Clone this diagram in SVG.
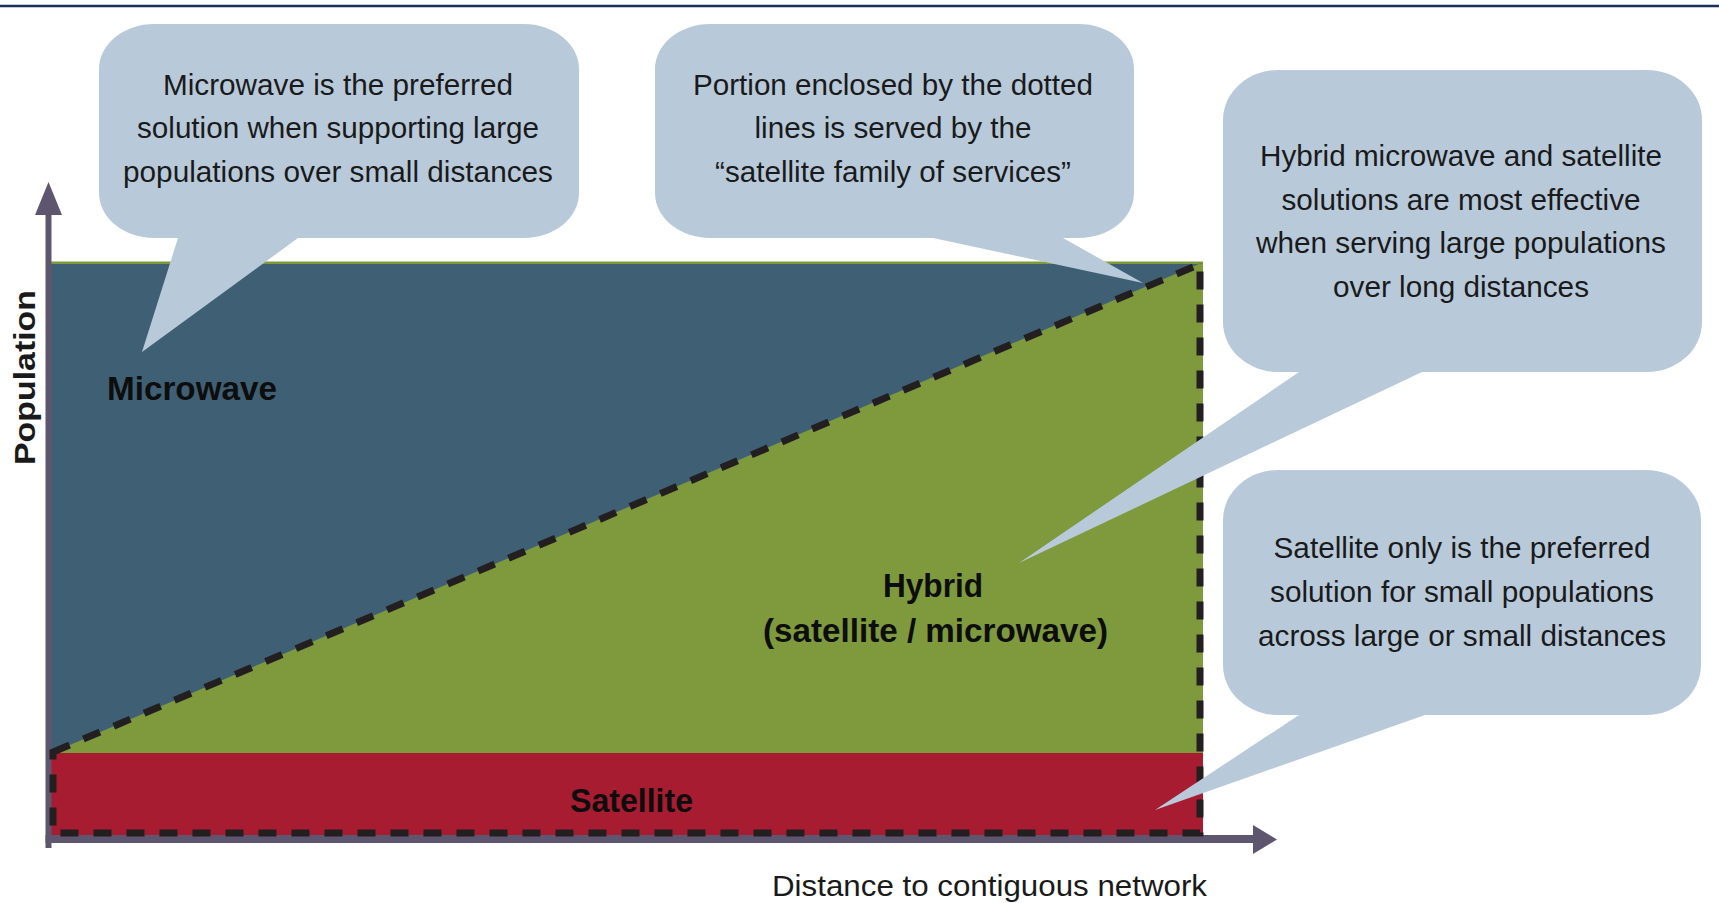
<svg xmlns="http://www.w3.org/2000/svg" width="1719" height="903" viewBox="0 0 1719 903">
  <style>
    .callout { fill: #b8cada; }
    .ctext { font-family: "Liberation Sans", Arial, sans-serif; font-size: 30px; fill: #1a1a1a; text-anchor: middle; }
    .label { font-family: "Liberation Sans", Arial, sans-serif; font-size: 33px; font-weight: bold; fill: #0d0d0d; }
    .axislabel { font-family: "Liberation Sans", Arial, sans-serif; font-size: 30px; fill: #1a1a1a; }
    .axis { stroke: #5e566e; fill: none; }
    .axishead { fill: #5e566e; }
    .dash { stroke: #231f20; stroke-width: 7; fill: none; stroke-dasharray: 18 15; }
  </style>

  <rect x="0" y="0" width="1719" height="903" fill="#ffffff"/>
  <line x1="0" y1="6" x2="1719" y2="6" stroke="#1b2f5e" stroke-width="2.5"/>

  <g id="regions">
    <rect id="hybrid-region" x="51" y="261.5" width="1152" height="492" fill="#7e9a3d"/>
    <polygon id="microwave-region" points="51,264 1203,264 1200,263.5 51,753" fill="#3f6074"/>
    <rect id="satellite-region" x="51" y="753" width="1152" height="83" fill="#a71c30"/>
  </g>

  <g id="axes">
    <line class="axis" x1="48.5" y1="848" x2="48.5" y2="212" stroke-width="6"/>
    <polygon class="axishead" points="35,215 48.5,182 62,215"/>
    <line class="axis" x1="45.5" y1="839" x2="1256" y2="839" stroke-width="8"/>
    <polygon class="axishead" points="1253,825 1277,839.5 1253,854"/>
    <text class="axislabel" x="772" y="896" textLength="435" lengthAdjust="spacingAndGlyphs">Distance to contiguous network</text>
    <text class="axislabel" font-weight="bold" font-size="28" transform="translate(35,465) rotate(-90)" textLength="175" lengthAdjust="spacingAndGlyphs">Population</text>
  </g>

  <g id="connectors">
    <path id="satellite-family-boundary" class="dash" d="M 53,752 L 1200,264 L 1200,833 L 53,833 Z"/>
  </g>

  <g id="labels">
    <text id="label-microwave" class="label" x="107" y="400" textLength="170" lengthAdjust="spacingAndGlyphs">Microwave</text>
    <text id="label-hybrid" class="label" x="883" y="597" textLength="100" lengthAdjust="spacingAndGlyphs">Hybrid</text>
    <text id="label-hybrid2" class="label" x="763" y="642" textLength="345" lengthAdjust="spacingAndGlyphs">(satellite / microwave)</text>
    <text id="label-satellite" class="label" x="570" y="812" textLength="123" lengthAdjust="spacingAndGlyphs">Satellite</text>
  </g>

  <g id="callout-microwave">
    <path class="callout" d="M 154,24 H 524 A 55 45 0 0 1 579,69 V 193 A 55 45 0 0 1 524,238 H 298 L 142,352 L 178,238 H 154 A 55 45 0 0 1 99,193 V 69 A 55 45 0 0 1 154,24 Z"/>
    <text class="ctext" x="338" y="95" textLength="350" lengthAdjust="spacingAndGlyphs">Microwave is the preferred</text>
    <text class="ctext" x="338" y="138" textLength="402" lengthAdjust="spacingAndGlyphs">solution when supporting large</text>
    <text class="ctext" x="338" y="182" textLength="430" lengthAdjust="spacingAndGlyphs">populations over small distances</text>
  </g>

  <g id="callout-portion">
    <path class="callout" d="M 710,24 H 1079 A 55 45 0 0 1 1134,69 V 193 A 55 45 0 0 1 1079,238 H 1063 L 1143,283 L 933,238 H 710 A 55 45 0 0 1 655,193 V 69 A 55 45 0 0 1 710,24 Z"/>
    <text class="ctext" x="893" y="95" textLength="400" lengthAdjust="spacingAndGlyphs">Portion enclosed by the dotted</text>
    <text class="ctext" x="893" y="138" textLength="277" lengthAdjust="spacingAndGlyphs">lines is served by the</text>
    <text class="ctext" x="893" y="182" textLength="356" lengthAdjust="spacingAndGlyphs">“satellite family of services”</text>
  </g>

  <g id="callout-hybrid">
    <path class="callout" d="M 1278,70 H 1647 A 55 50 0 0 1 1702,120 V 322 A 55 50 0 0 1 1647,372 H 1422 L 1019,563 L 1299,372 H 1278 A 55 50 0 0 1 1223,322 V 120 A 55 50 0 0 1 1278,70 Z"/>
    <text class="ctext" x="1461" y="166" textLength="402" lengthAdjust="spacingAndGlyphs">Hybrid microwave and satellite</text>
    <text class="ctext" x="1461" y="210" textLength="359" lengthAdjust="spacingAndGlyphs">solutions are most effective</text>
    <text class="ctext" x="1461" y="253" textLength="410" lengthAdjust="spacingAndGlyphs">when serving large populations</text>
    <text class="ctext" x="1461" y="297" textLength="256" lengthAdjust="spacingAndGlyphs">over long distances</text>
  </g>

  <g id="callout-satellite">
    <path class="callout" d="M 1278,470 H 1646 A 55 50 0 0 1 1701,520 V 665 A 55 50 0 0 1 1646,715 H 1425 L 1155,810 L 1299,715 H 1278 A 55 50 0 0 1 1223,665 V 520 A 55 50 0 0 1 1278,470 Z"/>
    <text class="ctext" x="1462" y="558" textLength="377" lengthAdjust="spacingAndGlyphs">Satellite only is the preferred</text>
    <text class="ctext" x="1462" y="602" textLength="384" lengthAdjust="spacingAndGlyphs">solution for small populations</text>
    <text class="ctext" x="1462" y="646" textLength="408" lengthAdjust="spacingAndGlyphs">across large or small distances</text>
  </g>
</svg>
